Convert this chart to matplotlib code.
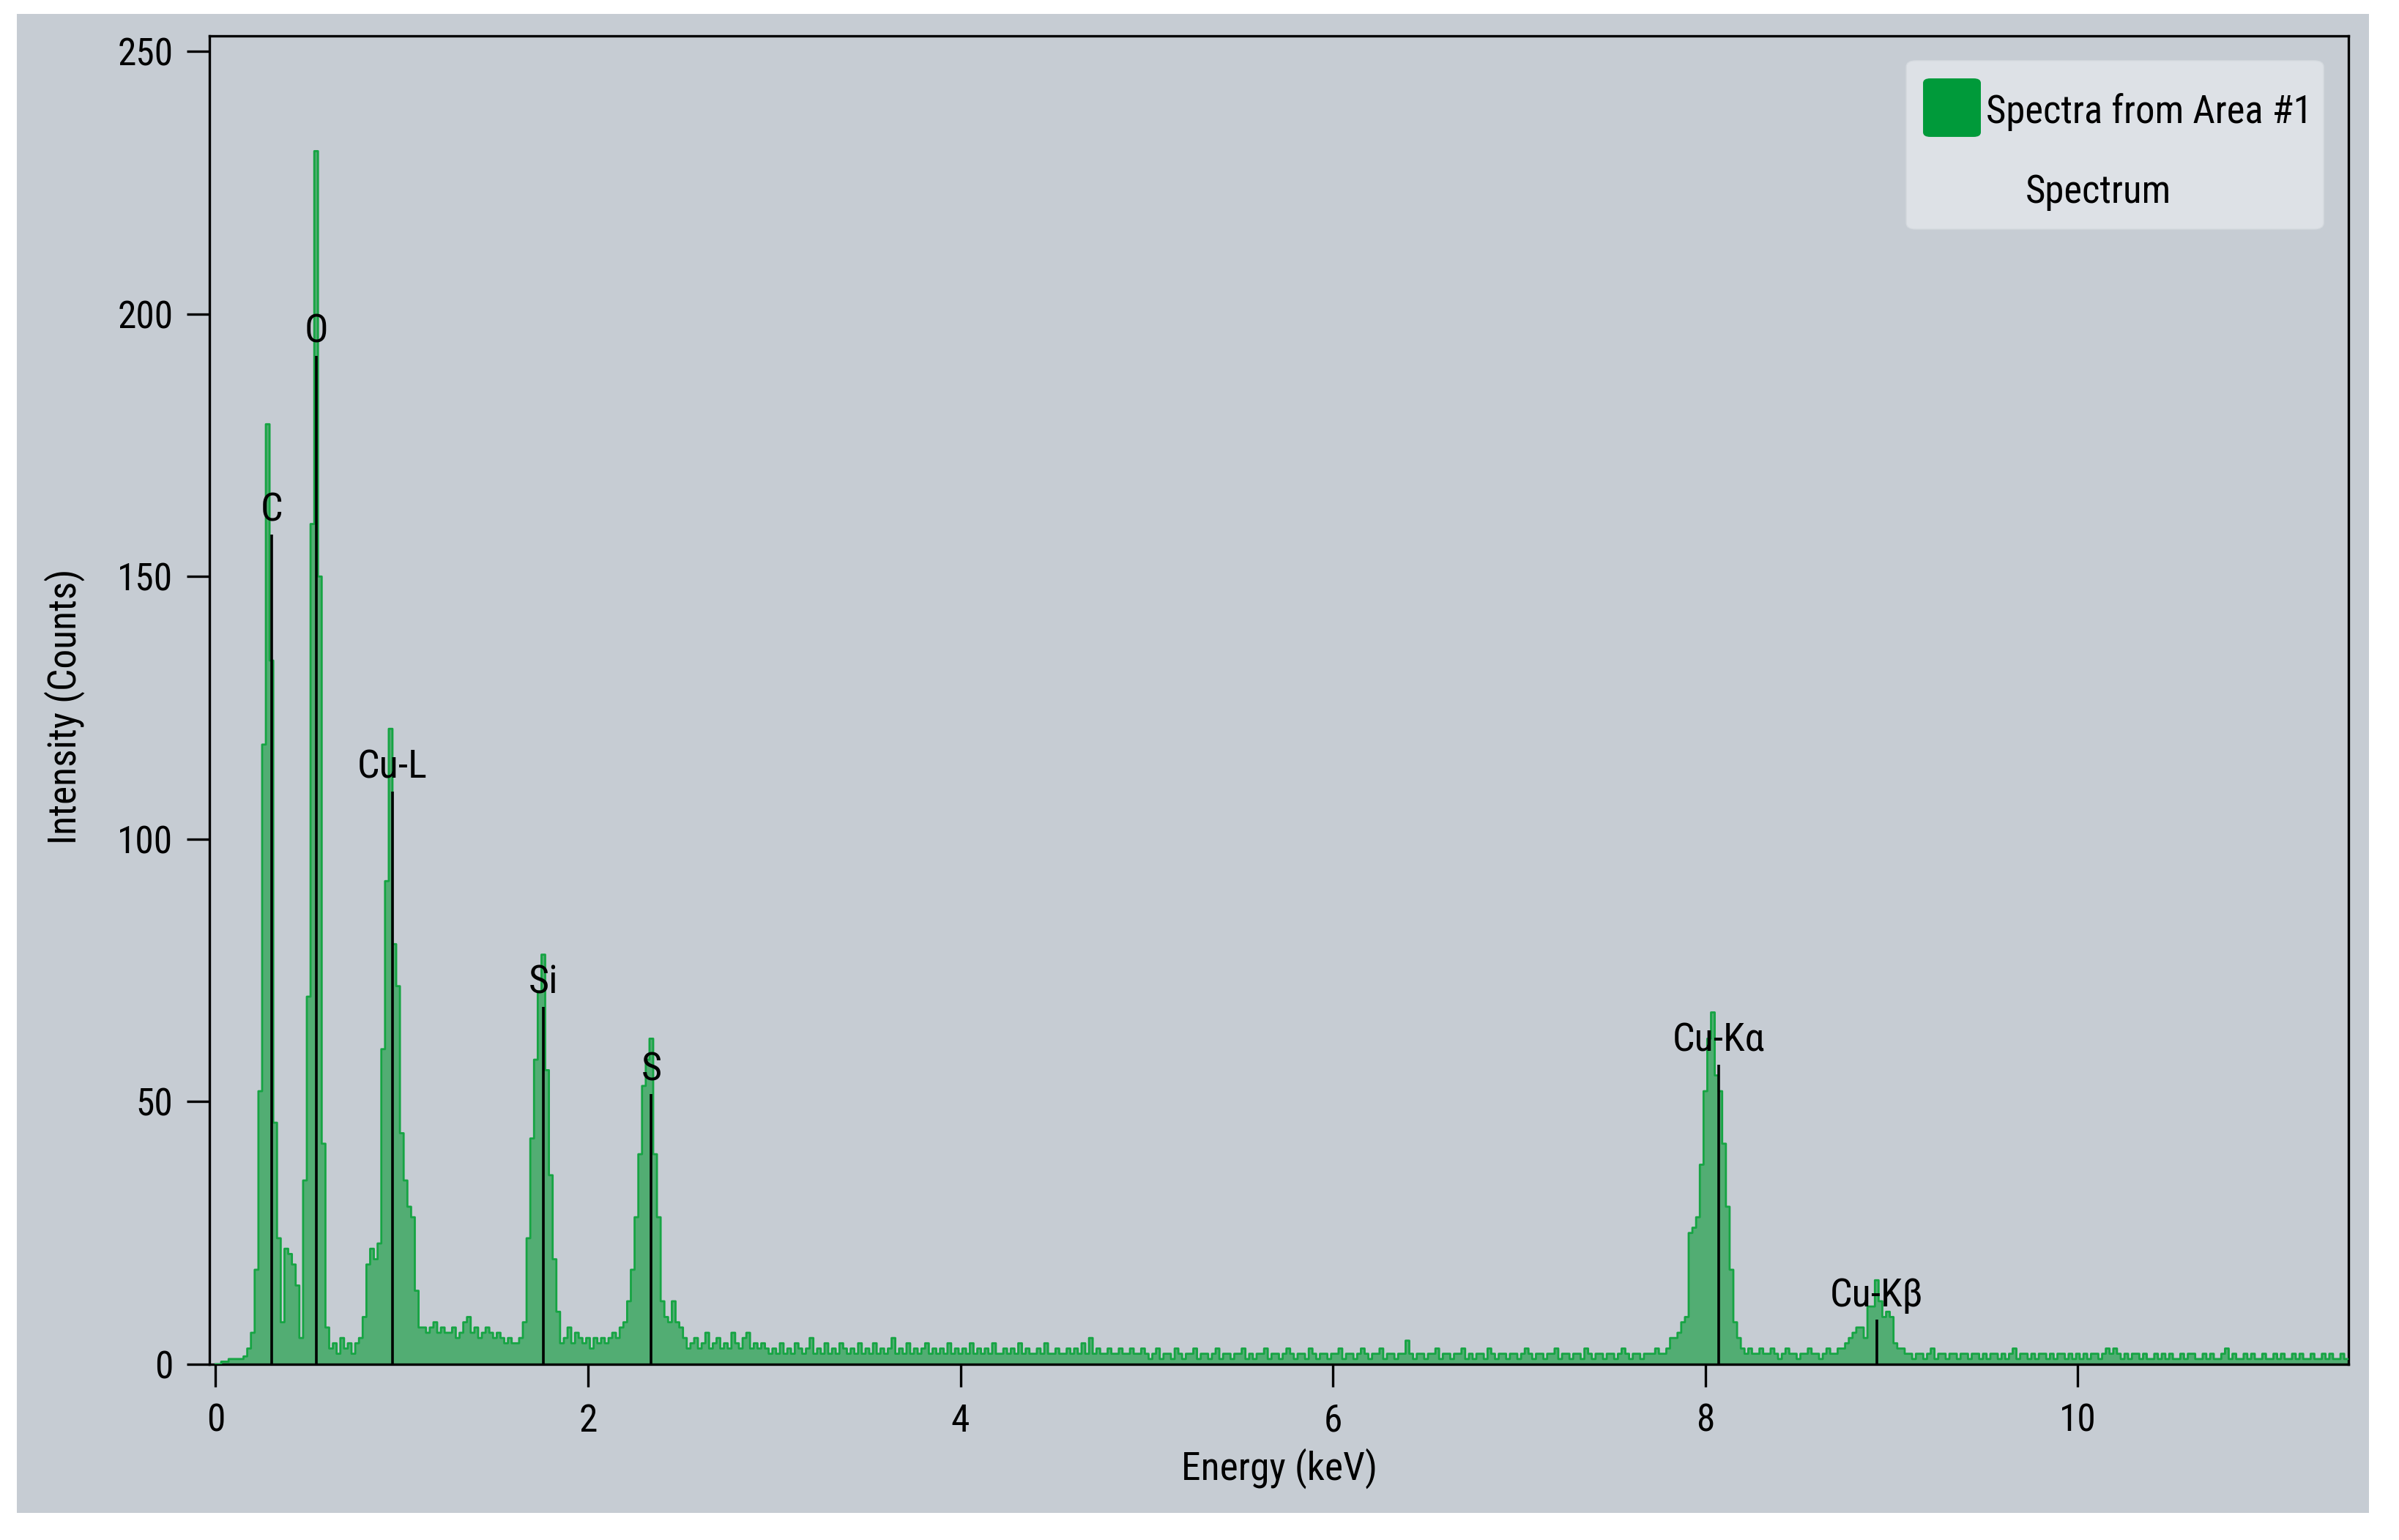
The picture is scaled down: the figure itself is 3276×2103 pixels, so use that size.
import numpy as np
import matplotlib
matplotlib.use('Agg')
import matplotlib.pyplot as plt
from matplotlib import font_manager
from matplotlib.patches import Rectangle, FancyBboxPatch

# EDS spectrum, channel width 0.02 keV starting at 0 keV (one row = 0.5 keV)
channel_kev = 0.02
counts = [
    0, 0, 0.5, 0.5, 1, 1, 1, 1, 1.5, 3, 6, 18, 52, 118, 179, 134, 46, 24, 8, 22, 21, 19, 15, 5, 35,
    70, 160, 231, 150, 42, 7, 3, 4, 2, 5, 3, 4, 2, 4, 5, 9, 19, 22, 20, 23, 60, 92, 121, 80, 72,
    44, 35, 30, 28, 14, 7, 7, 6, 7, 8, 6, 7, 6, 6, 7, 5, 6, 8, 9, 6, 7, 5, 6, 7, 6,
    5, 6, 5, 4, 5, 4, 4, 5, 8, 24, 43, 58, 71, 78, 56, 36, 20, 10, 4, 5, 7, 4, 6, 5, 4,
    5, 3, 5, 4, 5, 4, 5, 6, 5, 7, 8, 12, 18, 28, 40, 53, 58, 62, 40, 28, 12, 9, 8, 12, 8,
    7, 5, 3, 4, 5, 3, 4, 6, 3, 4, 5, 3, 4, 3, 6, 4, 3, 5, 6, 3, 4, 3, 4, 3, 2,
    3, 2, 4, 2, 3, 2, 4, 3, 2, 3, 5, 2, 3, 2, 4, 2, 3, 2, 4, 3, 2, 3, 2, 4, 2,
    3, 2, 4, 2, 3, 2, 3, 5, 2, 3, 2, 4, 2, 3, 2, 3, 4, 2, 3, 2, 3, 2, 4, 2, 3,
    2, 3, 2, 4, 2, 3, 2, 3, 2, 4, 2, 2, 3, 2, 3, 2, 4, 2, 3, 2, 2, 3, 2, 4, 2,
    2, 3, 2, 2, 3, 2, 3, 2, 4, 2, 5, 2, 3, 2, 2, 3, 2, 2, 3, 2, 2, 3, 2, 2, 3,
    2, 1, 2, 3, 1, 2, 2, 1, 3, 2, 1, 2, 2, 3, 1, 2, 2, 1, 2, 3, 1, 2, 2, 1, 2,
    2, 3, 1, 2, 1, 2, 2, 3, 1, 2, 2, 1, 2, 3, 2, 1, 2, 2, 1, 3, 2, 1, 2, 2, 1,
    2, 2, 3, 1, 2, 2, 1, 2, 3, 2, 1, 2, 2, 3, 1, 2, 2, 1, 2, 2, 4.5, 2, 1, 2, 2,
    1, 2, 2, 3, 1, 2, 2, 1, 2, 2, 3, 1, 2, 1, 2, 2, 1, 3, 2, 1, 2, 2, 1, 2, 2,
    1, 2, 3, 2, 1, 2, 2, 1, 2, 2, 3, 1, 2, 2, 1, 2, 2, 1, 3, 2, 1, 2, 2, 1, 2,
    2, 1, 2, 3, 2, 1, 2, 2, 1, 2, 2, 2, 3, 2, 2, 3, 5, 5, 6, 8, 9, 25, 26, 28, 38,
    52, 62, 67, 55, 52, 42, 30, 18, 8, 5, 3, 2, 3, 2, 2, 3, 2, 2, 3, 2, 1, 2, 3, 2, 2,
    1, 2, 2, 3, 2, 2, 1, 2, 3, 2, 2, 3, 3, 4, 5, 6, 7, 7, 5, 11, 11, 16, 12, 9, 10,
    9, 4, 3, 3, 2, 2, 1, 2, 2, 1, 2, 3, 1, 2, 2, 1, 2, 2, 1, 2, 2, 1, 2, 2, 1,
    2, 1, 2, 2, 1, 2, 1, 2, 3, 1, 2, 2, 1, 2, 1, 2, 2, 1, 2, 1, 2, 2, 1, 2, 1,
    2, 1, 2, 1, 2, 2, 1, 2, 3, 2, 3, 2, 1, 2, 1, 2, 2, 1, 2, 1, 1, 2, 1, 2, 1,
    2, 1, 1, 2, 1, 2, 2, 1, 1, 2, 1, 2, 1, 1, 2, 3, 1, 2, 1, 1, 2, 1, 2, 1, 1,
    2, 1, 1, 2, 1, 2, 1, 1, 2, 1, 2, 1, 1, 2, 1, 1, 2, 1, 2, 1, 1, 2, 1, 1,
]
energy = np.arange(len(counts)) * channel_kev

# peak identification lines
peak_names = ['C', 'O', 'Cu-L', 'Si', 'S', 'Cu-Kα', 'Cu-Kβ']
peak_energy = [0.30, 0.54, 0.95, 1.76, 2.34, 8.07, 8.92]
peak_height = [158, 192, 109, 68, 51.5, 57, 8.5]

x_ticks = [0, 2, 4, 6, 8, 10]
y_ticks = [0, 50, 100, 150, 200, 250]

# the original uses a narrow sans; take a condensed face if one is installed
narrow = None
for pref in ['Liberation Sans Narrow', 'Roboto Condensed', 'Noto Sans', 'Open Sans',
             'DejaVu Sans', 'Arial Narrow']:
    for f in font_manager.fontManager.ttflist:
        is_narrow = (str(f.stretch) in ('condensed', 'semi-condensed')
                     or 'Narrow' in f.name or 'Condensed' in f.name)
        if (f.name.startswith(pref) and is_narrow and f.style == 'normal'
                and f.weight in (400, 'normal', 'regular')):
            narrow = f
            break
    if narrow:
        break

if narrow:
    plt.rcParams['font.family'] = [narrow.name, 'DejaVu Sans']
    plt.rcParams['font.stretch'] = narrow.stretch
    tick_fs, label_fs, legend_fs, peak_fs = 37, 38.5, 38, 39
else:
    plt.rcParams['font.family'] = ['Liberation Sans', 'DejaVu Sans']
    tick_fs, label_fs, legend_fs, peak_fs = 35, 34, 34, 35

bg = '#c6ccd3'
green_fill = '#3ea862'
green_line = '#16a443'

fig = plt.figure(figsize=(32.76, 21.03), dpi=100, facecolor='white')
fig.add_artist(Rectangle((0.007, 0.0176), 0.9805, 0.9734, transform=fig.transFigure,
                         facecolor=bg, edgecolor='none', zorder=-2))
ax = fig.add_axes([0.08745, 0.11412, 0.97894 - 0.08745, 0.97656 - 0.11412])
ax.set_facecolor('none')

ax.fill_between(energy, counts, step='mid', color=green_fill, alpha=0.85, lw=0, zorder=2)
ax.plot(energy, counts, drawstyle='steps-mid', color=green_line, lw=2.0, zorder=3)
ax.vlines(peak_energy, 0, peak_height, color='black', lw=2.6, zorder=4)
for name, e, h in zip(peak_names, peak_energy, peak_height):
    ax.text(e, h + 4.6, name, ha='center', va='center', fontsize=peak_fs, color='black', zorder=5)

ax.set_xlim(-0.031, 11.453)
ax.set_ylim(0, 252.9)
ax.set_xticks(x_ticks)
ax.set_yticks(y_ticks)
for s in ax.spines.values():
    s.set_linewidth(2.4)
    s.set_color('black')
ax.tick_params(axis='both', direction='out', length=22, width=2.4, labelsize=tick_fs, colors='black')
ax.tick_params(axis='y', pad=14)
ax.tick_params(axis='x', pad=16)

ax.set_xlabel('Energy (keV)', fontsize=label_fs)
ax.set_ylabel('Intensity (Counts)', fontsize=label_fs)
ax.xaxis.label.set_va('center')
ax.yaxis.label.set_va('center')
ax.xaxis.set_label_coords(0.5, -0.0785)
ax.yaxis.set_label_coords(-0.068, 0.495)

# legend box drawn in figure coordinates
fig.add_artist(FancyBboxPatch((0.7946, 0.8512), 0.174, 0.1094, transform=fig.transFigure,
                              boxstyle='round,pad=0,rounding_size=0.004',
                              facecolor='#dde1e6', edgecolor='#d4d9de', lw=1, zorder=6))
fig.add_artist(FancyBboxPatch((0.8016, 0.9111), 0.0241, 0.038, transform=fig.transFigure,
                              boxstyle='round,pad=0,rounding_size=0.003',
                              facecolor='#009a3a', edgecolor='none', zorder=7))
fig.text(0.8278, 0.9201, 'Spectra from Area #1', ha='left', va='baseline', fontsize=legend_fs, zorder=8)
fig.text(0.8748, 0.8683, 'Spectrum', ha='center', va='baseline', fontsize=legend_fs, zorder=8)

fig.savefig('out.png', dpi=100, facecolor='white')
